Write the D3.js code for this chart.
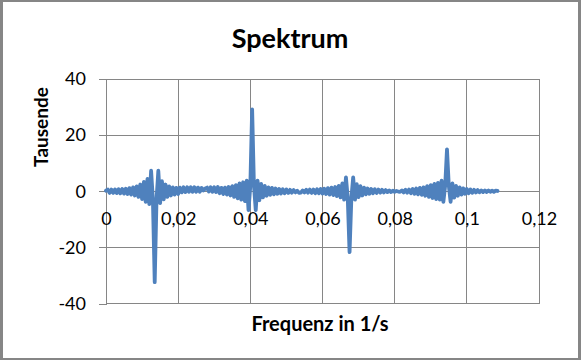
<!DOCTYPE html>
<html><head><meta charset="utf-8">
<script src="https://cdn.jsdelivr.net/npm/d3@7"></script>
<style>
html,body{margin:0;padding:0;background:#fff;}
svg{display:block;}
text{font-family:Lato,"Open Sans",sans-serif;}
</style></head>
<body>
<svg id="chart" width="581" height="360"></svg>
<script>
const chartTitle = "Spektrum";
const yAxisTitle = "Tausende";
const xAxisTitle = "Frequenz in 1/s";
const freqStart = 0;
const freqStep = 0.0005;
// amplitude values (in thousands), one per frequency sample
const amplitudes = [
 0.2, 0.6,-0.6, 0.6,-0.6, 0.65,-0.65, 0.7,-0.75, 0.8,
-0.85, 0.9,-1.0, 1.1,-1.2, 1.35,-1.5, 1.7,-2.0, 2.4,
-2.8, 3.3,-3.8, 4.4,-4.6, 7.3,-3.0,-32.4,-3.0, 7.3,
-4.2, 3.6,-2.9, 2.4,-2.0, 1.7,-1.5, 1.4,-1.2, 1.2,
-1.0, 1.3,-0.4, 1.4,-0.3, 1.4,-0.2, 1.4,-0.2, 1.4,
-0.2, 1.3,-0.2, 1.2, 0.3, 1.0, 1.3,-0.1, 1.4,-0.2,
 1.4,-0.3, 1.5,-0.7, 1.2,-1.0, 1.3,-1.2, 1.5,-1.5,
 1.8,-2.0, 2.2,-2.5, 2.8,-3.0, 3.2,-3.5, 3.8,-6.7,
 2.0, 29.2, 2.0,-6.7, 3.8,-3.2, 2.6,-2.2, 1.9,-1.6,
 1.4,-1.3, 1.2,-1.1, 1.0,-0.9, 0.8,-0.8, 0.7,-0.7,
 0.6,-0.6, 0.5,-0.5, 0.4,-0.4, 0.2,-0.6,-0.5, 0.3,
-0.4, 0.5,-0.5, 0.6,-0.6, 0.6,-0.7, 0.7,-0.7, 0.8,
-0.8, 0.9,-1.0, 1.1,-1.2, 1.3,-1.4, 1.5,-1.7, 1.9,
-2.2, 2.8,-3.0, 4.9,-2.5,-21.7,-2.5, 4.9,-3.0, 2.5,
-2.1, 1.8,-1.5, 1.3,-1.1, 1.0,-0.9, 0.8,-0.7, 0.7,
-0.6, 0.6,-0.5, 0.5,-0.4, 0.4,-0.3, 0.3,-0.3, 0.2,
-0.2, 0.1,-0.1,-0.2, 0.3,-0.4, 0.5,-0.5, 0.6,-0.7,
 0.8,-0.9, 1.0,-1.1, 1.2,-1.3, 1.4,-1.6, 1.8,-2.0,
 2.2,-2.4, 2.6,-2.8, 3.0,-3.0, 3.8,-3.8, 2.0, 14.9,
 2.0,-3.8, 2.8,-2.3, 1.9,-1.6, 1.4,-1.2, 1.0,-0.9,
 0.8,-0.7, 0.6,-0.55, 0.5,-0.45, 0.4,-0.35, 0.3,-0.3,
 0.3,-0.25, 0.25,-0.2, 0.2,-0.2, 0.2, 0.1
];
const xTickValues = [0, 0.02, 0.04, 0.06, 0.08, 0.1, 0.12];
const xTickLabels = ["0", "0,02", "0,04", "0,06", "0,08", "0,1", "0,12"];
const yTickValues = [-40, -20, 0, 20, 40];
const yTickLabels = ["-40", "-20", "0", "20", "40"];

const data = amplitudes.map((v, i) => ({f: freqStart + i * freqStep, v}));

const svg = d3.select("#chart");
const W = 581, H = 360;
const gray = "#868686";
// frame
svg.append("rect").attr("x",0).attr("y",0).attr("width",W).attr("height",H).attr("fill",gray);
svg.append("rect").attr("x",3).attr("y",2).attr("width",575).attr("height",356).attr("fill","#fff");

const x = d3.scaleLinear().domain([0, 0.12]).range([106, 539]);
const y = d3.scaleLinear().domain([-40, 40]).range([303.5, 79]);

// gridlines
const grid = svg.append("g");
grid.selectAll("line.v").data(xTickValues).enter().append("line")
  .attr("x1", d => x(d)).attr("x2", d => x(d))
  .attr("y1", y(40)).attr("y2", y(-40))
  .attr("stroke", gray).attr("stroke-width", 1).attr("shape-rendering","crispEdges");
grid.selectAll("line.h").data(yTickValues).enter().append("line")
  .attr("x1", x(0)).attr("x2", x(0.12))
  .attr("y1", d => y(d)).attr("y2", d => y(d))
  .attr("stroke", gray).attr("stroke-width", 1).attr("shape-rendering","crispEdges");

// y axis
const yAxis = d3.axisLeft(y).tickValues(yTickValues)
  .tickFormat((d, i) => yTickLabels[i]).tickSize(7).tickPadding(13);
const gy = svg.append("g").attr("transform", `translate(${x(0)},0)`).call(yAxis);
gy.select(".domain").attr("stroke", gray).attr("shape-rendering","crispEdges");
gy.selectAll(".tick line").attr("stroke", gray).attr("shape-rendering","crispEdges");
gy.selectAll(".tick text").attr("font-size", 18).attr("fill", "#000")
  .attr("font-family","Lato, sans-serif");

// x axis at y=0
const xAxis = d3.axisBottom(x).tickValues(xTickValues)
  .tickFormat((d, i) => xTickLabels[i]).tickSize(0).tickPadding(21);
const gx = svg.append("g").attr("transform", `translate(0,${y(0)})`).call(xAxis);
gx.select(".domain").attr("stroke", gray).attr("shape-rendering","crispEdges");
gx.selectAll(".tick text").attr("font-size", 18).attr("fill", "#000")
  .attr("font-family","Lato, sans-serif");

// series line
const line = d3.line().x(d => x(d.f)).y(d => y(d.v));
svg.append("path").datum(data)
  .attr("d", line)
  .attr("fill", "none")
  .attr("stroke", "#4F81BD")
  .attr("stroke-width", 3.8)
  .attr("stroke-linejoin", "round")
  .attr("stroke-linecap", "round");

// titles
svg.append("text").attr("x", 290).attr("y", 48).attr("text-anchor","middle")
  .attr("font-size", 27).attr("font-weight","bold").text(chartTitle);
svg.append("text").attr("transform","translate(48,127) rotate(-90)")
  .attr("text-anchor","middle").attr("font-size", 19).attr("font-weight","bold").text(yAxisTitle);
svg.append("text").attr("x", 320).attr("y", 331).attr("text-anchor","middle")
  .attr("font-size", 20).attr("font-weight","bold").text(xAxisTitle);
</script>
</body></html>
